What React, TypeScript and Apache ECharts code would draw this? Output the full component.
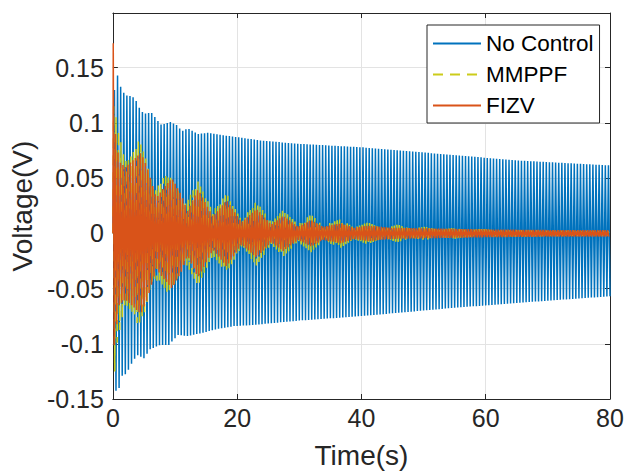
import React, { useEffect, useRef } from "react";
import * as echarts from "echarts";

// ---- axis / labels ----
const xMin = 0;
const xMax = 80;
const xStep = 20;
const yMin = -0.15;
const yMax = 0.1995;
const yStep = 0.05;
const seriesNames = ["No Control", "MMPPF", "FIZV"];

// ---- No Control (blue): peak envelope ----
const noCtrlPeriod = 0.5;
const noCtrlOnsetT = [0];
const noCtrlOnsetV = [0];
const noCtrlUpperT = [0, 0.64, 1.34, 2.0, 3.15, 3.74, 4.2, 5.0, 5.6, 6.25, 7.05, 7.85, 9.2, 10.3, 11.1, 12.1, 13.7, 15.3, 16.9, 19.6, 23.9, 30, 39.9, 53.8, 65, 80];
const noCtrlUpper = [0.12, 0.145, 0.131, 0.125, 0.124, 0.12, 0.114, 0.108, 0.109, 0.109, 0.103, 0.098, 0.101, 0.098, 0.0925, 0.095, 0.09, 0.091, 0.0895, 0.0874, 0.084, 0.081, 0.078, 0.0714, 0.066, 0.0615];
const noCtrlLowerT = [0, 0.64, 1.0, 1.5, 2.2, 3.0, 3.9, 5.0, 6.0, 7.6, 9.0, 10.5, 12.0, 14.5, 16.5, 19.5, 22.5, 30, 39.9, 53.8, 65, 80];
const noCtrlLower = [-0.13, -0.146, -0.14, -0.129, -0.127, -0.118, -0.11, -0.113, -0.105, -0.101, -0.101, -0.092, -0.093, -0.09, -0.087, -0.084, -0.083, -0.079, -0.075, -0.068, -0.063, -0.057];

// ---- MMPPF (yellow dashed) ----
const mmppfPeriod = 0.4;
const mmppfOnsetT = [0, 0.12, 0.3];
const mmppfOnsetV = [0, 0.115, -0.125];
const mmppfEnvT = [0.5, 1.0, 2.0, 3.0, 4.2, 5.2, 6.5, 7.5, 8.7, 10, 11.5, 13.7, 16.1, 18.3, 20.7, 23.1, 25.5, 27.4, 29.8, 31.9, 33.8, 36.7, 38.8, 41, 43.5, 45.8, 48, 50.3, 52.5, 54.8, 57, 59.6, 62, 65, 70, 80];
const mmppfAmp = [0.105, 0.09, 0.065, 0.07, 0.085, 0.07, 0.04, 0.045, 0.055, 0.045, 0.025, 0.047, 0.02, 0.036, 0.012, 0.029, 0.01, 0.021, 0.008, 0.017, 0.007, 0.013, 0.005, 0.01, 0.004, 0.008, 0.004, 0.006, 0.003, 0.005, 0.003, 0.004, 0.0025, 0.003, 0.0025, 0.002];

// ---- FIZV (orange) ----
const fizvPeriod = 0.4;
const fizvOnsetT = [0, 0.06, 0.22];
const fizvOnsetV = [0, 0.172, -0.101];
const fizvEnvT = [0.45, 1.0, 2.0, 3.0, 4.5, 5.5, 7.0, 8.0, 9.5, 11, 12, 13.7, 16.1, 18.3, 20.7, 23.1, 25.5, 27.4, 29.8, 31.9, 33.8, 36.7, 38.8, 41, 45, 50, 55, 60, 70, 80];
const fizvAmp = [0.09, 0.065, 0.06, 0.065, 0.073, 0.06, 0.032, 0.04, 0.05, 0.035, 0.02, 0.04, 0.015, 0.03, 0.01, 0.022, 0.008, 0.016, 0.006, 0.012, 0.006, 0.009, 0.005, 0.007, 0.005, 0.0045, 0.004, 0.0035, 0.003, 0.003];

function envAt(ts: number[], vs: number[], t: number): number {
  if (t <= ts[0]) return vs[0];
  for (let i = 1; i < ts.length; i++) {
    if (t <= ts[i]) {
      const f = (t - ts[i - 1]) / (ts[i] - ts[i - 1]);
      return vs[i - 1] + f * (vs[i] - vs[i - 1]);
    }
  }
  return vs[vs.length - 1];
}

// alternate between the upper and lower envelope at each half period
function buildTrace(
  onsetT: number[], onsetV: number[],
  upT: number[], up: number[], loT: number[], lo: number[],
  period: number
): number[][] {
  const pts: number[][] = onsetT.map((t, i) => [t, onsetV[i]]);
  const half = period / 2;
  const t0 = onsetT[onsetT.length - 1] + half;
  const n = Math.floor((xMax - t0) / half);
  for (let i = 0; i <= n; i++) {
    const t = t0 + i * half;
    const v = i % 2 === 0 ? envAt(upT, up, t) : envAt(loT, lo, t);
    pts.push([t, v]);
  }
  return pts;
}

const noCtrlData = buildTrace(noCtrlOnsetT, noCtrlOnsetV, noCtrlUpperT, noCtrlUpper, noCtrlLowerT, noCtrlLower, noCtrlPeriod);
const mmppfData = buildTrace(mmppfOnsetT, mmppfOnsetV, mmppfEnvT, mmppfAmp, mmppfEnvT, mmppfAmp.map((a) => -a), mmppfPeriod);
const fizvData = buildTrace(fizvOnsetT, fizvOnsetV, fizvEnvT, fizvAmp, fizvEnvT, fizvAmp.map((a) => -a), fizvPeriod);

const FONT = "Liberation Sans";
const AX = "#262626";
const GRID = "#E3E3E3";

export default function App() {
  const ref = useRef<HTMLDivElement>(null);
  useEffect(() => {
    if (!ref.current) return;
    const chart = echarts.init(ref.current, undefined, { renderer: "svg" });
    const fmt = (v: number) => String(parseFloat(v.toFixed(4)));
    const baseX = {
      type: "value" as const,
      min: xMin,
      max: xMax,
      interval: xStep,
    };
    const baseY = {
      type: "value" as const,
      min: yMin,
      max: yMax,
      interval: yStep,
    };
    chart.setOption({
      animation: false,
      backgroundColor: "#ffffff",
      textStyle: { fontFamily: FONT },
      grid: { left: 111, top: 13, right: 17, bottom: 73, containLabel: false },
      xAxis: [
        {
          ...baseX,
          position: "bottom",
          axisLine: { show: true, onZero: false, lineStyle: { color: AX, width: 1 } },
          axisTick: { show: true, inside: true, length: 5, lineStyle: { color: AX } },
          axisLabel: { fontSize: 25, color: AX, margin: 6, fontFamily: FONT },
          splitLine: { show: true, lineStyle: { color: GRID, width: 1 } },
          name: "Time(s)",
          nameLocation: "middle",
          nameGap: 42,
          nameTextStyle: { fontSize: 28, color: AX, fontFamily: FONT },
        },
        {
          ...baseX,
          position: "top",
          axisLine: { show: true, onZero: false, lineStyle: { color: AX, width: 1 } },
          axisTick: { show: true, inside: true, length: 5, lineStyle: { color: AX } },
          axisLabel: { show: false },
          splitLine: { show: false },
        },
      ],
      yAxis: [
        {
          ...baseY,
          position: "left",
          axisLine: { show: true, onZero: false, lineStyle: { color: AX, width: 1 } },
          axisTick: { show: true, inside: true, length: 5, lineStyle: { color: AX } },
          axisLabel: { fontSize: 25, color: AX, margin: 9, fontFamily: FONT, formatter: fmt, showMaxLabel: false },
          splitLine: { show: true, lineStyle: { color: GRID, width: 1 } },
          name: "Voltage(V)",
          nameLocation: "middle",
          nameGap: 72,
          nameTextStyle: { fontSize: 28, color: AX, fontFamily: FONT },
        },
        {
          ...baseY,
          position: "right",
          axisLine: { show: true, onZero: false, lineStyle: { color: AX, width: 1 } },
          axisTick: { show: true, inside: true, length: 5, lineStyle: { color: AX } },
          axisLabel: { show: false },
          splitLine: { show: false },
        },
      ],
      legend: {
        orient: "vertical",
        left: 427,
        top: 25,
        padding: [7, 6, 6, 5],
        itemWidth: 48,
        itemHeight: 12,
        itemGap: 8,
        selectedMode: false,
        backgroundColor: "#ffffff",
        borderColor: AX,
        borderWidth: 1,
        borderRadius: 0,
        itemStyle: { opacity: 0, borderWidth: 0 },
        textStyle: { fontSize: 22.5, lineHeight: 22, color: "#000000", fontFamily: FONT },
        data: seriesNames,
      },
      series: [
        {
          name: seriesNames[0],
          type: "line",
          data: noCtrlData,
          showSymbol: false,
          symbol: "none",
          color: "#0072BD",
          lineStyle: { width: 1.5, color: "#0072BD" },
          z: 2,
        },
        {
          name: seriesNames[1],
          type: "line",
          data: mmppfData,
          showSymbol: false,
          symbol: "none",
          color: "#CCCC1A",
          lineStyle: { width: 1.5, color: "#CCCC1A", type: [10, 7] },
          z: 3,
        },
        {
          name: seriesNames[2],
          type: "line",
          data: fizvData,
          showSymbol: false,
          symbol: "none",
          color: "#D95319",
          lineStyle: { width: 1.5, color: "#D95319" },
          z: 4,
        },
      ],
    });
    return () => chart.dispose();
  }, []);
  return (
    <div
      ref={ref}
      style={{ position: "fixed", left: 0, top: 0, width: 627, height: 474 }}
    />
  );
}
